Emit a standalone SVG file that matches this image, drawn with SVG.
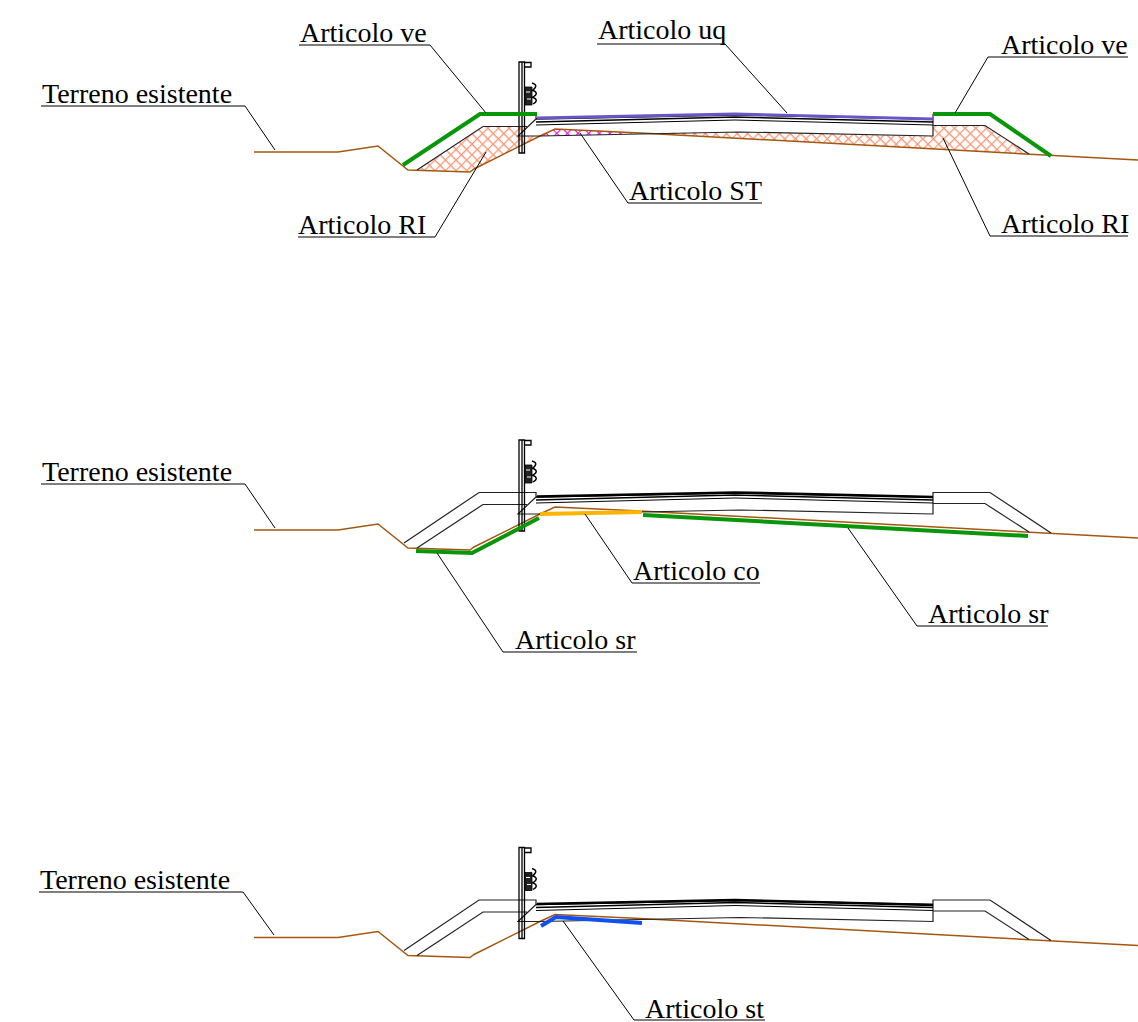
<svg xmlns="http://www.w3.org/2000/svg" xmlns:xlink="http://www.w3.org/1999/xlink" width="1138" height="1022" viewBox="0 0 1138 1022">
<style>
text{font-family:"Liberation Serif","Times New Roman",serif;font-size:28px;fill:#000}
.l{fill:none;stroke:#000;stroke-width:1}
.r{fill:none;stroke:#222;stroke-width:1.200}
.t{fill:none;stroke:#a5560f;stroke-width:1.500}
.d{fill:none;stroke:#000;stroke-width:1.400}
.p{fill:none;stroke:#000;stroke-width:1.300}
.g{fill:none;stroke:#0a960a;stroke-width:4}
</style>
<defs>
<pattern id="h" width="7.500" height="7.500" patternUnits="userSpaceOnUse" patternTransform="rotate(45)"><rect width="7.500" height="7.500" fill="#fff"/><path d="M0 0H7.500M0 0V7.500" stroke="#f79a7a" stroke-width="2.600"/></pattern>
<pattern id="m" width="7.500" height="7.500" patternUnits="userSpaceOnUse" patternTransform="rotate(45)"><path d="M0 0H7.500M0 0V7.500" stroke="#ee11ee" stroke-width="2.200"/></pattern>
<g id="road">
<path class="t" d="M254 152H338L378 146L408 170L470 172L474 169L540 136L555 129L640 133L1138 160"/>
<path class="r" d="M404 165L479 114.500H536V119M417 170L483 126.500H527M536 119L518 136H540L740 132L933 136V114.500H990L1051 155M933 125.500H985L1029 154"/>
<path class="d" d="M536 119L735 115L933 119M536 122L735 117L933 122"/>
<path class="l" d="M536 125L735 120L933 125"/>
<path class="p" d="M519 62V153H524.500V62ZM522 62V153M524.500 62.500H531V67H524.500"/>
<path fill="#222" stroke="#000" stroke-width="0.800" d="M525 87H532V105H525Z"/>
<path stroke="#fff" stroke-width="1" d="M526 92H530M527 99H531"/>
<path class="d" d="M532 83Q539 85 533 90M532 90Q540 93 533 97M532 97Q540 100 533 104"/>
</g>
</defs>

<g id="section-1">
<path fill="url(#h)" d="M417 170L483 126H527L518 136H540L474 169L470 172Z"/>
<path fill="url(#h)" d="M640 133L740 132L933 136V126H985L1029 154Z"/>
<path fill="url(#m)" d="M540 136L555 129L640 133L600 135Z"/>
<use href="#road" xlink:href="#road"/>
<path class="g" d="M403 165L480 114H537M933 114H990L1051 156"/>
<path fill="none" stroke="#6a55c8" stroke-width="2.800" d="M537 118L735 114L933 119"/>
</g>
<g id="section-2">
<use href="#road" xlink:href="#road" y="378"/>
<path fill="none" stroke="#000" stroke-width="2.600" d="M537 496.500L735 492.500L933 497"/>
<path class="g" d="M416 551L472 553L539 518M643 515L1028 536"/>
<path fill="none" stroke="#fbb400" stroke-width="4" d="M540 514L642 512"/>
</g>
<g id="section-3">
<use href="#road" xlink:href="#road" y="785.500"/>
<path fill="none" stroke="#000" stroke-width="2.600" d="M537 904L735 900L933 905"/>
<path fill="none" stroke="#0f50f0" stroke-width="4" d="M541 926L556 917L642 923"/>
</g>
<g id="connectors">
<path class="l" d="M41 106H245L275 150M299 45H430L486 113M597 44H725L787 113M1128 57H988L955 113M762 203H628L580 133M298 237H435L486 152M1128 236H990L943 138"/>
<path class="l" d="M41 484H245L275 528M760 583H632L585 514M637 652H503L437 553M1048 626H917L848 528"/>
<path class="l" d="M39 892H243L274 935M765 1020H634L563 921"/>
</g>
<g id="label-terreno-1"><text x="42" y="103">Terreno esistente</text></g>
<g id="label-ve-1"><text x="300" y="42">Articolo ve</text></g>
<g id="label-uq"><text x="598" y="39">Articolo uq</text></g>
<g id="label-ve-2"><text x="1001" y="54">Articolo ve</text></g>
<g id="label-ST"><text x="629" y="200">Articolo ST</text></g>
<g id="label-RI-1"><text x="298" y="234">Articolo RI</text></g>
<g id="label-RI-2"><text x="1001" y="233">Articolo RI</text></g>
<g id="label-terreno-2"><text x="42" y="481">Terreno esistente</text></g>
<g id="label-co"><text x="633" y="580">Articolo co</text></g>
<g id="label-sr-1"><text x="515" y="649">Articolo sr</text></g>
<g id="label-sr-2"><text x="928" y="623">Articolo sr</text></g>
<g id="label-terreno-3"><text x="40" y="889">Terreno esistente</text></g>
<g id="label-st"><text x="645" y="1018">Articolo st</text></g>
</svg>
